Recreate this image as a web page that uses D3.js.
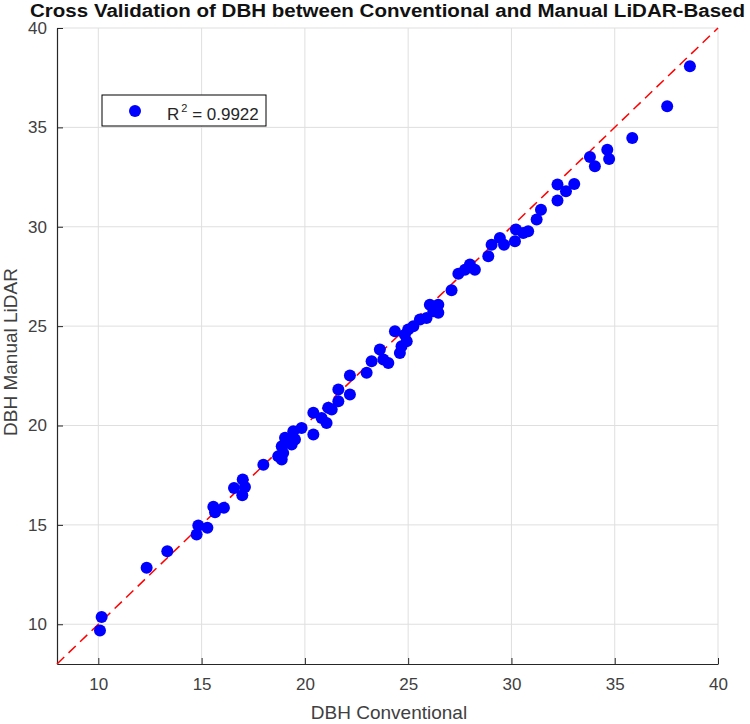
<!DOCTYPE html>
<html><head><meta charset="utf-8">
<script src="https://cdn.jsdelivr.net/npm/d3@7"></script>
<style>body{margin:0;background:#fff}svg{display:block}</style>
</head><body>
<svg id="c" width="750" height="724"></svg>
<script>
const titleText = "Cross Validation of DBH between Conventional and Manual LiDAR-Based";
const xLabel = "DBH Conventional";
const yLabel = "DBH Manual LiDAR";
const legendLabel = "0.9922";
const tickValues = [10, 15, 20, 25, 30, 35, 40];
const axisDomain = [8, 40];
const conventional = [10.08,10.16,12.34,13.34,14.76,14.84,15.28,15.57,15.65,16.08,16.57,16.99,17.10,16.97,17.99,18.71,
  18.88,18.95,18.88,19.36,19.52,19.04,19.44,19.84,20.41,21.05,20.81,20.41,21.30,21.13,21.62,22.18,21.62,22.18,22.99,23.23,
  23.80,24.04,23.63,24.60,24.68,24.93,24.84,24.36,25.00,25.25,25.57,25.89,26.22,26.46,26.05,26.46,27.10,27.43,27.75,28.23,27.99,28.88,
  29.04,29.44,29.64,30.17,30.22,30.57,30.81,31.22,31.43,32.23,32.23,32.64,33.04,33.80,34.04,34.64,34.73,35.85,37.54,38.64];
const lidar = [9.69,10.37,12.84,13.67,14.51,14.97,14.85,15.91,15.64,15.86,16.86,17.28,16.91,16.49,18.02,18.45,
  18.29,18.62,18.96,19.04,19.29,19.38,19.71,19.88,19.55,20.13,20.38,20.64,20.80,20.89,21.22,21.56,21.81,22.51,22.65,23.23,
  23.32,23.15,23.82,23.65,23.99,24.24,24.57,24.74,24.83,24.99,25.33,25.41,25.75,25.67,26.08,26.08,26.80,27.64,27.84,27.84,28.10,28.51,
  29.10,29.44,29.10,29.27,29.86,29.69,29.77,30.36,30.86,31.32,32.12,31.78,32.15,33.51,33.04,33.88,33.41,34.47,36.06,38.07];

const svg = d3.select("#c");
const L = 57, R = 718, T = 28, B = 664;
const x = d3.scaleLinear().domain(axisDomain).range([L, R]);
const y = d3.scaleLinear().domain(axisDomain).range([B, T]);
const font = "'Liberation Sans', Arial, sans-serif";
const txt = "#262626";

// grid
const g = svg.append("g");
g.selectAll(".gx").data(tickValues).join("line")
  .attr("x1", d => x(d)).attr("x2", d => x(d)).attr("y1", T).attr("y2", B)
  .attr("stroke", "#dfdfdf").attr("stroke-width", 1);
g.selectAll(".gy").data(tickValues).join("line")
  .attr("y1", d => y(d)).attr("y2", d => y(d)).attr("x1", L).attr("x2", R)
  .attr("stroke", "#dfdfdf").attr("stroke-width", 1);

// axes
const xAxis = d3.axisBottom(x).tickValues(tickValues).tickSizeInner(-6).tickSizeOuter(0).tickPadding(14);
const yAxis = d3.axisLeft(y).tickValues(tickValues).tickSizeInner(-6).tickSizeOuter(0).tickPadding(10);
const gx = svg.append("g").attr("transform", `translate(0,${B})`).call(xAxis);
const gy = svg.append("g").attr("transform", `translate(${L},0)`).call(yAxis);
[gx, gy].forEach(a => {
  a.select(".domain").attr("stroke", "#262626").attr("stroke-width", 1.2);
  a.selectAll(".tick line").attr("stroke", "#262626").attr("stroke-width", 1);
  a.selectAll(".tick text").attr("fill", "#404040").attr("font-family", font).attr("font-size", 17);
});

// identity line
svg.append("line")
  .attr("x1", x(axisDomain[0])).attr("y1", y(axisDomain[0]))
  .attr("x2", x(axisDomain[1])).attr("y2", y(axisDomain[1]))
  .attr("stroke", "#ff0000").attr("stroke-width", 1.5).attr("stroke-dasharray", "10,6");

// points
svg.append("g").selectAll("circle").data(conventional.map((v, i) => [v, lidar[i]])).join("circle")
  .attr("cx", d => x(d[0])).attr("cy", d => y(d[1])).attr("r", 6).attr("fill", "#0000ff");

// legend
const lg = svg.append("g");
lg.append("rect").attr("x", 102).attr("y", 95).attr("width", 164).attr("height", 31)
  .attr("fill", "#fff").attr("stroke", "#000").attr("stroke-width", 1);
lg.append("circle").attr("cx", 135).attr("cy", 111).attr("r", 6).attr("fill", "#0000ff");
const lt = lg.append("text").attr("x", 167).attr("y", 120).attr("font-family", font).attr("font-size", 17).attr("fill", txt);
lt.append("tspan").text("R");
lt.append("tspan").attr("dx", 2).attr("dy", -8).attr("font-size", 11).text("2");
lt.append("tspan").attr("dy", 8).text(" = " + legendLabel);

// title
svg.append("text").attr("x", (L + R) / 2).attr("y", 17).attr("text-anchor", "middle")
  .attr("font-family", font).attr("font-weight", "bold").attr("font-size", 17.5).attr("fill", "#111")
  .attr("textLength", 715).attr("lengthAdjust", "spacingAndGlyphs").text(titleText);

// axis labels
svg.append("text").attr("x", 389).attr("y", 719).attr("text-anchor", "middle")
  .attr("font-family", font).attr("font-size", 19).attr("fill", "#404040").text(xLabel);
svg.append("text").attr("transform", `translate(17,352) rotate(-90)`).attr("text-anchor", "middle")
  .attr("font-family", font).attr("font-size", 19).attr("fill", "#404040").text(yLabel);
</script>
</body></html>
